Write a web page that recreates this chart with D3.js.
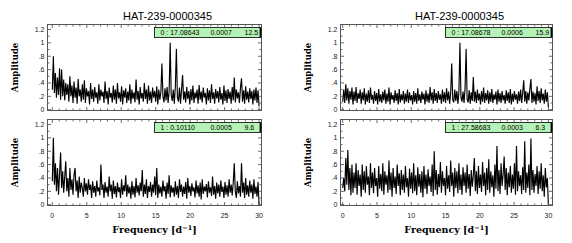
<!DOCTYPE html>
<html>
<head>
<meta charset="utf-8">
<script src="https://cdn.jsdelivr.net/npm/d3@7"></script>
<style>
  html, body { margin: 0; padding: 0; background: #fff; }
  svg { display: block; }
</style>
</head>
<body>
<svg id="chart" width="572" height="243"></svg>
<script>
// frequency grid step in c/d, 0..30
const step = 0.15;
const title = "HAT-239-0000345";
const xTicks = [0, 5, 10, 15, 20, 25, 30];
const yTicks = [0, 0.2, 0.4, 0.6, 0.8, 1, 1.2];
const yTickLabels = ["0", ".2", ".4", ".6", ".8", "1", "1.2"];

// amplitude spectra (normalised)
const ampTopLeft = [
  .30,.80,.25,.55,.18,.48,.22,.62,.15,.60,
  .20,.45,.14,.40,.22,.38,.12,.50,.20,.36,
  .10,.42,.18,.33,.09,.46,.20,.30,.12,.38,
  .15,.44,.10,.32,.20,.28,.08,.40,.16,.30,
  .12,.34,.18,.26,.09,.38,.14,.30,.20,.27,
  .10,.42,.16,.28,.08,.33,.18,.25,.11,.36,
  .15,.30,.09,.40,.17,.26,.12,.35,.08,.29,
  .18,.32,.10,.27,.14,.38,.09,.30,.16,.26,
  .11,.45,.15,.28,.08,.34,.17,.25,.12,.40,
  .16,.30,.09,.36,.14,.27,.10,.33,.18,.28,
  .12,.35,.08,.30,.15,.26,.69,.20,.11,.32,
  .14,.34,.10,.28,1.0,.22,.13,.30,.09,.35,
  .91,.18,.12,.33,.09,.30,.52,.15,.27,.11,
  .34,.16,.28,.08,.31,.14,.36,.10,.26,.17,
  .30,.09,.37,.15,.27,.11,.33,.18,.25,.08,
  .32,.14,.29,.10,.38,.16,.26,.09,.31,.17,
  .28,.11,.34,.15,.25,.08,.36,.13,.29,.10,
  .31,.16,.27,.09,.34,.14,.48,.11,.30,.17,
  .26,.10,.33,.47,.12,.29,.09,.35,.15,.27,
  .11,.32,.16,.28,.08,.30,.14,.33,.10,.29,
  .05
];
const ampTopRight = [
  .12,.30,.10,.38,.14,.32,.09,.28,.15,.33,
  .08,.27,.13,.34,.10,.25,.16,.30,.09,.26,
  .14,.32,.08,.24,.12,.29,.10,.33,.15,.22,
  .09,.28,.13,.25,.08,.31,.12,.23,.10,.27,
  .14,.30,.09,.24,.12,.33,.08,.26,.15,.22,
  .10,.29,.13,.25,.08,.31,.11,.23,.14,.28,
  .09,.24,.12,.30,.10,.26,.14,.22,.08,.28,
  .12,.25,.09,.32,.13,.23,.10,.27,.15,.24,
  .08,.29,.12,.24,.10,.34,.14,.26,.09,.31,
  .13,.25,.10,.28,.15,.23,.09,.30,.12,.26,
  .10,.32,.14,.27,.09,.25,.69,.15,.11,.30,
  .13,.28,.09,.26,1.0,.18,.12,.27,.10,.33,
  .91,.15,.11,.29,.09,.26,.13,.49,.12,.27,
  .10,.30,.14,.24,.08,.28,.12,.33,.10,.25,
  .14,.29,.09,.26,.12,.31,.10,.23,.15,.27,
  .08,.30,.12,.25,.10,.28,.14,.22,.09,.29,
  .13,.26,.10,.31,.08,.24,.12,.28,.15,.23,
  .09,.27,.13,.30,.10,.25,.44,.12,.28,.09,
  .26,.14,.31,.46,.10,.27,.12,.25,.08,.35,
  .13,.28,.10,.32,.14,.24,.09,.30,.12,.26,
  .04
];
const ampBottomLeft = [
  .35,1.0,.30,.62,.20,.55,.15,.45,.78,.25,
  .50,.18,.42,.65,.20,.40,.12,.55,.22,.38,
  .15,.45,.55,.20,.36,.10,.42,.18,.33,.25,
  .12,.40,.20,.32,.15,.38,.22,.30,.10,.35,
  .18,.28,.12,.36,.20,.26,.14,.60,.22,.30,
  .10,.34,.18,.27,.12,.42,.20,.30,.09,.36,
  .16,.28,.11,.33,.19,.26,.10,.38,.15,.29,
  .20,.44,.12,.30,.17,.27,.09,.35,.15,.28,
  .11,.40,.18,.29,.14,.33,.20,.52,.12,.30,
  .16,.38,.10,.28,.19,.34,.12,.30,.18,.42,
  .14,.55,.10,.30,.17,.27,.12,.36,.20,.28,
  .09,.33,.16,.44,.11,.29,.18,.26,.12,.35,
  .15,.28,.10,.38,.19,.30,.12,.27,.16,.34,
  .09,.40,.18,.28,.13,.32,.20,.26,.11,.36,
  .17,.29,.12,.33,.08,.38,.16,.27,.20,.31,
  .11,.35,.18,.26,.13,.42,.15,.28,.09,.33,
  .17,.30,.12,.36,.19,.27,.10,.34,.15,.29,
  .12,.38,.18,.30,.14,.33,.62,.20,.10,.35,
  .17,.28,.12,.62,.18,.33,.10,.40,.15,.29,
  .12,.36,.18,.30,.09,.38,.16,.27,.12,.34,
  .00
];
const ampBottomRight = [
  .25,.40,.20,.70,.30,.82,.22,.55,.14,.60,
  .18,.48,.25,.62,.15,.52,.28,.45,.12,.60,
  .22,.50,.18,.58,.30,.42,.14,.62,.25,.48,
  .17,.55,.28,.40,.12,.58,.24,.46,.20,.62,
  .15,.50,.30,.44,.18,.66,.22,.48,.12,.55,
  .25,.42,.16,.60,.28,.47,.14,.52,.22,.45,
  .18,.58,.26,.40,.12,.54,.24,.48,.17,.62,
  .20,.44,.14,.56,.27,.46,.18,.50,.11,.58,
  .24,.45,.16,.53,.28,.42,.19,.60,.13,.80,
  .22,.52,.15,.46,.26,.64,.18,.50,.28,.40,
  .14,.58,.24,.44,.19,.66,.28,.48,.12,.55,
  .25,.50,.17,.62,.22,.45,.15,.56,.28,.48,
  .18,.60,.24,.46,.13,.52,.27,.44,.70,.20,
  .50,.16,.58,.25,.45,.19,.64,.28,.48,.14,
  .55,.22,.68,.18,.50,.26,.44,.12,.60,.24,
  .88,.20,.52,.16,.62,.28,.46,.72,.22,.55,
  .14,.48,.26,.58,.18,.45,.24,.62,.15,.88,
  .20,.50,.28,.44,.16,.56,.22,.95,.18,.48,
  .25,.60,.14,.99,.22,.52,.18,.46,.28,.58,
  .16,.50,.24,.62,.20,.44,.12,.55,.26,.40,
  .00
];

// legend labels: index : frequency  amplitude  S/N
const peakLabels = [
  ["0 : 17.08643", "0.0007", "12.5"],
  ["0 : 17.08678", "0.0006", "15.9"],
  ["1 : 0.10110", "0.0005", "9.6"],
  ["1 : 27.58683", "0.0003", "6.3"]
];

const panels = [
  { amp: ampTopLeft, label: peakLabels[0], x0: 47.5, x1: 261.5, y0: 24.5, y1: 110.5, xd: [-0.7, 30.35], bottom: false },
  { amp: ampTopRight, label: peakLabels[1], x0: 340.5, x1: 552.5, y0: 24.5, y1: 110.5, xd: [-0.32, 30.6], bottom: false },
  { amp: ampBottomLeft, label: peakLabels[2], x0: 47.5, x1: 261.5, y0: 119.5, y1: 205.5, xd: [-0.7, 30.35], bottom: true },
  { amp: ampBottomRight, label: peakLabels[3], x0: 340.5, x1: 552.5, y0: 119.5, y1: 205.5, xd: [-0.32, 30.6], bottom: true }
];

const svg = d3.select("#chart");
const sans = "'Liberation Sans', Arial, Helvetica, sans-serif";
const serif = "'DejaVu Serif', serif";

// titles above each column
[167.5, 459.5].forEach(cx => {
  svg.append("text")
    .attr("x", cx).attr("y", 19.5)
    .attr("text-anchor", "middle")
    .attr("font-family", sans).attr("font-size", 11)
    .text(title);
});

panels.forEach((p, k) => {
  const x = d3.scaleLinear().domain(p.xd).range([p.x0, p.x1]);
  const y = d3.scaleLinear().domain([-0.012, 1.275]).range([p.y1, p.y0]);
  const g = svg.append("g");

  const clipId = "clip" + k;
  svg.append("clipPath").attr("id", clipId)
    .append("rect").attr("x", p.x0).attr("y", p.y0)
    .attr("width", p.x1 - p.x0).attr("height", p.y1 - p.y0);

  // spectrum
  const freqs = p.amp.map((d, i) => i * step);
  const line = d3.line().x((d, i) => x(freqs[i])).y(d => y(d));
  g.append("path")
    .datum(p.amp)
    .attr("clip-path", `url(#${clipId})`)
    .attr("fill", "none")
    .attr("stroke", "#000")
    .attr("stroke-width", 1.15)
    .attr("stroke-linejoin", "miter")
    .attr("d", line);

  // inward ticks on all four sides
  const ticks = g.append("g").attr("stroke", "#444").attr("stroke-width", 0.8);
  d3.range(0, 31, 1).forEach(f => {
    const len = f % 5 === 0 ? 3.5 : 2;
    ticks.append("line").attr("x1", x(f)).attr("x2", x(f)).attr("y1", p.y1).attr("y2", p.y1 - len);
    ticks.append("line").attr("x1", x(f)).attr("x2", x(f)).attr("y1", p.y0).attr("y2", p.y0 + len);
  });
  d3.range(0, 13, 1).forEach(v => {
    const a = v / 10;
    const len = v % 2 === 0 ? 3.5 : 2;
    ticks.append("line").attr("y1", y(a)).attr("y2", y(a)).attr("x1", p.x0).attr("x2", p.x0 + len);
    ticks.append("line").attr("y1", y(a)).attr("y2", y(a)).attr("x1", p.x1).attr("x2", p.x1 - len);
  });

  // frame
  g.append("rect")
    .attr("x", p.x0).attr("y", p.y0)
    .attr("width", p.x1 - p.x0).attr("height", p.y1 - p.y0)
    .attr("fill", "none").attr("stroke", "#555").attr("stroke-width", 1);

  // y tick labels
  g.append("g").selectAll("text")
    .data(yTicks)
    .join("text")
    .attr("x", p.x0 - 3)
    .attr("y", d => y(d))
    .attr("dy", "0.35em")
    .attr("text-anchor", "end")
    .attr("font-family", sans).attr("font-size", 7)
    .attr("fill", "#222")
    .text((d, i) => yTickLabels[i]);

  // y axis title
  const cy = (p.y0 + p.y1) / 2;
  g.append("text")
    .attr("transform", `translate(${p.x0 - 30},${cy}) rotate(-90)`)
    .attr("text-anchor", "middle")
    .attr("font-family", serif).attr("font-weight", "bold").attr("font-size", 8.5)
    .text("Amplitude");

  if (p.bottom) {
    g.append("g").selectAll("text")
      .data(xTicks)
      .join("text")
      .attr("x", d => x(d))
      .attr("y", p.y1 + 12)
      .attr("text-anchor", "middle")
      .attr("font-family", sans).attr("font-size", 7)
      .attr("fill", "#222")
      .text(d => d);

    const xl = g.append("text")
      .attr("x", (p.x0 + p.x1) / 2)
      .attr("y", 233)
      .attr("text-anchor", "middle")
      .attr("font-family", serif).attr("font-weight", "bold").attr("font-size", 9.5);
    xl.append("tspan").text("Frequency [d");
    xl.append("tspan").attr("dy", -3.5).attr("font-size", 6.5).text("−1");
    xl.append("tspan").attr("dy", 3.5).text("]");
  }

  // peak info box
  const bx1 = p.x1 - 1, bx0 = bx1 - 106, by0 = p.y0 + 3, bh = 10;
  g.append("rect")
    .attr("x", bx0).attr("y", by0).attr("width", bx1 - bx0).attr("height", bh)
    .attr("fill", "#b5f2b5").attr("stroke", "#000").attr("stroke-width", 0.8);
  g.append("line")
    .attr("x1", bx1).attr("x2", bx1).attr("y1", by0).attr("y2", by0 + bh)
    .attr("stroke", "#000").attr("stroke-width", 1.8);
  const offs = [6, 56, 90];
  p.label.forEach((t, i) => {
    g.append("text")
      .attr("x", bx0 + offs[i])
      .attr("y", by0 + 7.6)
      .attr("font-family", sans).attr("font-size", 7)
      .text(t);
  });
});
</script>
</body>
</html>
